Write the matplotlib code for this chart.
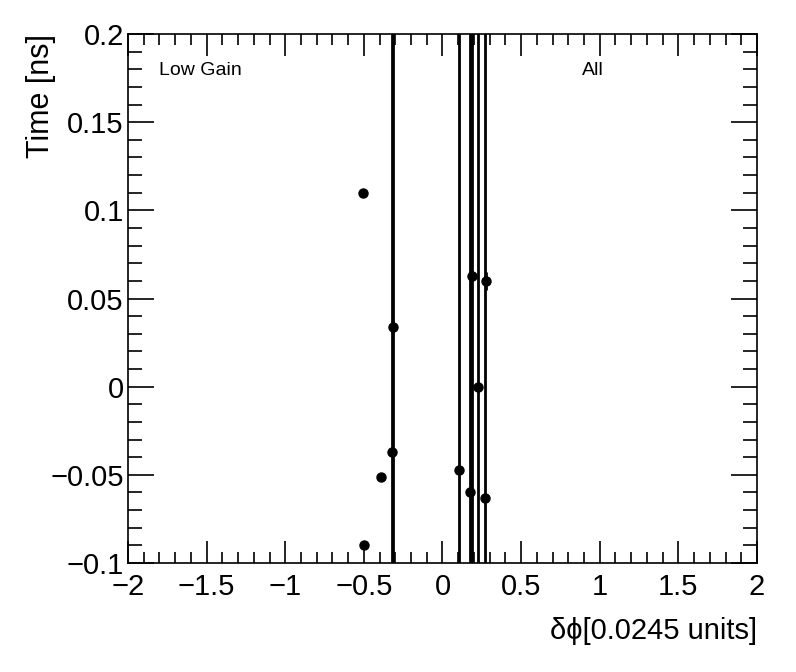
import numpy as np
import matplotlib
matplotlib.use('Agg')
import matplotlib.pyplot as plt
from matplotlib.ticker import MultipleLocator

# data
dphi = [-0.506, -0.315, -0.320, -0.390, -0.500, 0.105, 0.190, 0.175, 0.226, 0.276, 0.270]
time_ns = [0.110, 0.034, -0.037, -0.051, -0.090, -0.047, 0.063, -0.060, 0.000, 0.060, -0.063]
time_err = [0.0, 0.5, 0.5, 0.0, 0.0, 0.5, 0.5, 0.5, 0.5, 0.005, 0.5]

plt.rcParams['font.family'] = ['Liberation Sans', 'DejaVu Sans']

fig = plt.figure(figsize=(7.96, 6.72), dpi=100)
ax = fig.add_axes([0.1608, 0.1622, 0.7902, 0.7872])

ax.errorbar(dphi, time_ns, yerr=time_err, fmt='o', color='black',
            markersize=6.5, elinewidth=2, capsize=0)

ax.set_xlim(-2, 2)
ax.set_ylim(-0.1, 0.2)

ax.xaxis.set_major_locator(MultipleLocator(0.5))
ax.xaxis.set_minor_locator(MultipleLocator(0.1))
ax.yaxis.set_major_locator(MultipleLocator(0.05))
ax.yaxis.set_minor_locator(MultipleLocator(0.01))

ax.tick_params(which='both', direction='in', top=True, right=True, width=1.2)
ax.tick_params(which='major', axis='x', length=16, labelsize=21, pad=7)
ax.tick_params(which='minor', axis='x', length=8)
ax.tick_params(which='major', axis='y', length=19, labelsize=21, pad=3)
ax.tick_params(which='minor', axis='y', length=10)
for s in ax.spines.values():
    s.set_linewidth(1.2)

ax.set_yticks([-0.1, -0.05, 0, 0.05, 0.1, 0.15, 0.2])
ax.set_yticklabels(['\u22120.1', '\u22120.05', '0', '0.05', '0.1', '0.15', '0.2'])
ax.set_xticks([-2, -1.5, -1, -0.5, 0, 0.5, 1, 1.5, 2])
ax.set_xticklabels(['\u22122', '\u22121.5', '\u22121', '\u22120.5', '0', '0.5', '1', '1.5', '2'])

ax.set_xlabel('\u03b4\u03d5[0.0245 units]', fontsize=21, loc='right', labelpad=12)
ax.set_ylabel('Time [ns]', fontsize=22, loc='top', labelpad=-4)

ax.text(0.05, 0.931, 'Low Gain', transform=ax.transAxes, fontsize=14, va='center')
ax.text(0.722, 0.931, 'All', transform=ax.transAxes, fontsize=14, va='center')

fig.savefig('out.png', dpi=100)
